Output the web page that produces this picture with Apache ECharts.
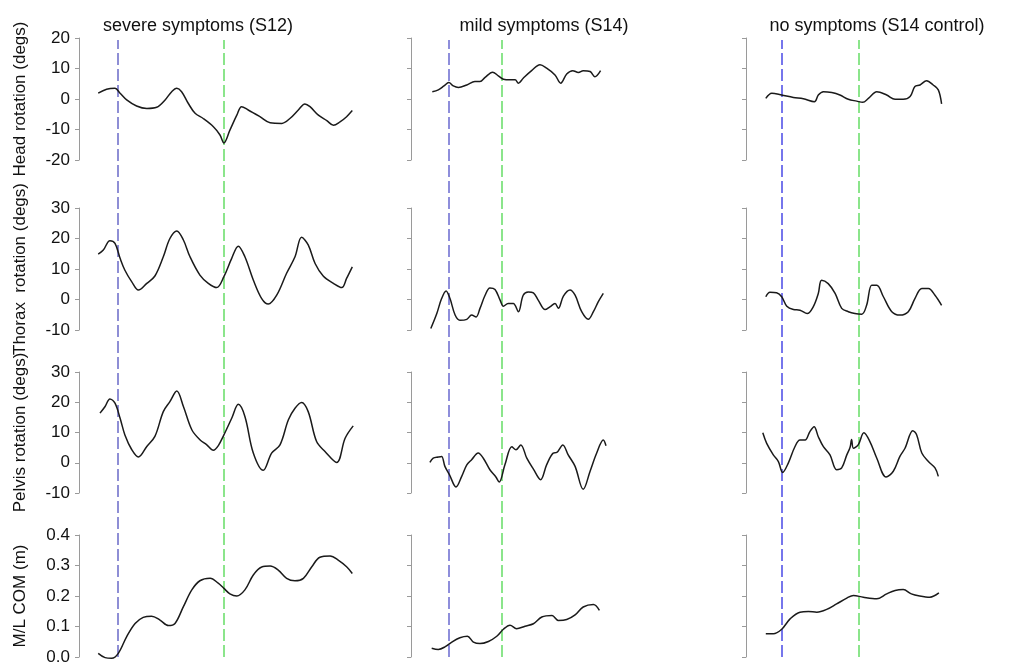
<!DOCTYPE html>
<html><head><meta charset="utf-8">
<script src="https://cdn.jsdelivr.net/npm/echarts@6/dist/echarts.min.js"></script>
<style>html,body{margin:0;padding:0;background:#fff}#c{width:1027px;height:666px}</style>
</head><body><div id="c"></div><script>
// ---- data ----
const columnTitles = ['severe symptoms (S12)', 'mild symptoms (S14)', 'no symptoms (S14 control)'];
const rowNames = ['Head rotation (degs)', 'Thorax  rotation (degs)', 'Pelvis rotation (degs)', 'M/L COM (m)'];
const blueEvent = [13, 12.7, 12];
const greenEvent = [48.3, 30.3, 37.7];

const headS12 = [[6.4,1.9],[9.2,3.2],[12,3.5],[13.7,1.9],[15.9,-0.3],[19.2,-2.3],[22.6,-3.1],[25.9,-2.7],[28.7,-0.3],[30.9,2.4],[32.6,3.5],[34.2,2.4],[36.4,-1.4],[38.7,-4.7],[41.4,-6.4],[44.8,-9.1],[47,-11.8],[48.3,-14.4],[50.3,-10.2],[52.6,-5.3],[54.2,-2.5],[56.4,-3.6],[60.3,-5.8],[63.7,-7.8],[67.6,-8.0],[70.3,-6.4],[73.1,-3.6],[75.3,-1.6],[77,-2.5],[79.8,-5.3],[82.6,-7.1],[84.8,-8.6],[87,-7.5],[89.2,-5.8],[91.1,-3.8]];
const thoraxS12 = [[6.4,14.9],[8.1,16.2],[10.3,19.3],[12,18.4],[13.7,13.5],[15.3,9.6],[17.6,5.8],[19.8,3.1],[22.6,5.3],[25.3,7.7],[28.1,14],[30.3,20],[32.6,22.5],[34.8,19.5],[37,14],[40.3,8],[43.1,5.3],[45.9,3.9],[48.3,7.5],[50.9,13.5],[53.1,17.5],[55.3,14],[58.1,6.4],[60.9,0.3],[63.1,-1.5],[65.9,1.4],[69.2,8.6],[72,14],[74.2,20.4],[76.4,17.9],[78.7,11.8],[81.4,7.7],[84.8,5.3],[87.6,3.9],[89.2,6.9],[91.1,10.7]];
const pelvisS12 = [[7,16.4],[8.7,18.6],[10.3,21.1],[12,19.7],[13.7,14.7],[15.3,9.2],[17.6,4.3],[19.8,1.9],[22.6,5.4],[25.3,8.7],[28.1,16.9],[30.3,20.2],[32.6,23.7],[34.8,18.6],[37.6,10.9],[40.3,7.6],[42.6,5.9],[44.8,4.1],[46.4,5.6],[48.3,9.2],[50.9,14.7],[53.1,19.3],[55.3,15.3],[58.1,3.2],[61.4,-2.5],[64.2,3.2],[67,5.9],[69.8,14.2],[72,18],[74.2,19.9],[76.4,16.9],[79.2,7],[82,3.7],[85.9,0.1],[88.7,8.1],[91.4,12.2]];
const comS12 = [[6.4,0.012],[8.7,-0.002],[10.9,-0.004],[13.1,0.012],[15.9,0.067],[18.7,0.11],[21.4,0.13],[24.2,0.134],[27,0.121],[29.8,0.103],[32,0.11],[34.8,0.165],[37.6,0.22],[40.3,0.25],[43.7,0.258],[46.4,0.242],[48.3,0.225],[50.3,0.207],[52.6,0.2],[55.3,0.22],[58.1,0.269],[60.9,0.295],[63.7,0.298],[66.4,0.285],[69.2,0.258],[72,0.25],[74.8,0.258],[77.6,0.296],[80.3,0.327],[83.7,0.331],[86.4,0.318],[89.2,0.296],[91.1,0.274]];

const headS14 = [[7.1,2.4],[9.1,3],[11,4.3],[12.6,5.4],[14.1,4.3],[15.8,3.8],[18.6,4.6],[21.3,5.7],[23,5.7],[24.7,7.1],[27.2,8.8],[29.1,7.6],[30.8,6.5],[33,6.3],[34.7,6.3],[35.8,5.2],[37.4,6.8],[40.2,9.3],[43,11.2],[45.2,10.1],[48,7.9],[49.9,5.2],[51.9,8.2],[53.9,9.3],[55.8,8.7],[57.4,9.3],[59.7,9],[61.3,7.3],[63.2,9.3]];
const thoraxS14 = [[6.6,-9.5],[8.6,-4.6],[10.2,0.3],[11.7,2.8],[13,0.3],[14.7,-5.1],[16.3,-6.8],[18.6,-6.5],[20.2,-5.1],[21.7,-5.7],[23,-2.9],[24.7,1.4],[26.3,3.8],[28,3.3],[29.7,-0.2],[30.8,-2.2],[32.4,-1.3],[34.1,-1.3],[35.8,-4],[37.4,1.4],[39.1,2.5],[40.8,2.2],[42.4,-0.2],[44.7,-3.3],[46.3,-2.4],[48,-1.3],[49.1,-2.9],[50.8,1.1],[53,3.1],[54.7,1.4],[56.9,-4],[59.1,-6.5],[60.8,-4],[62.4,-0.8],[64.1,2]];
const pelvisS14 = [[6.3,0.1],[7.4,1.5],[9.1,1.9],[10.2,2.1],[11.3,-1.2],[12.8,-3.9],[15,-8],[16.9,-4.5],[18.6,-0.7],[20.2,1],[22.4,3.2],[24.1,1.5],[26.3,-2.3],[28.3,-4.7],[29.4,-6.4],[31.3,-0.7],[33.6,5.3],[35,4.3],[36.6,5.9],[38.6,1.5],[40.8,-2.1],[43.2,-5.6],[45.2,-0.7],[47.4,3.2],[48.6,3.4],[50.6,5.9],[52.4,2.6],[54.7,-1.2],[57.4,-8.8],[59.7,-2.8],[61.9,3.2],[64.1,7.5],[65,5.6]];
const comS14 = [[6.9,0.029],[9.1,0.025],[11.3,0.033],[13.6,0.049],[16.3,0.063],[18.8,0.068],[20.8,0.049],[23,0.044],[25.8,0.051],[28.6,0.068],[30.8,0.091],[33,0.104],[35.2,0.093],[38,0.101],[40.8,0.109],[43.6,0.131],[47,0.136],[49.1,0.12],[51.9,0.123],[54.7,0.138],[57.4,0.164],[60.8,0.172],[62.8,0.153]];

const headCtrl = [[6.6,0.2],[8.6,1.9],[11.9,1.3],[15.8,0.5],[19.1,0.1],[22.8,-0.9],[24.1,1.3],[25.8,2.4],[28.6,2.1],[31.3,1.3],[34.1,-0.1],[36.9,-0.7],[38.9,-1.1],[40.8,0.2],[43.6,2.4],[46.9,1.3],[49.7,-0.1],[52.4,-0.1],[54.7,0.8],[56.3,4.1],[58,4.6],[60.2,6],[62.4,4.6],[64.1,3],[65.2,-1.6]];
const thoraxCtrl = [[6.6,0.9],[8,2.4],[10.2,2.2],[11.9,0.9],[13.6,-2.2],[15.8,-3.3],[18,-3.5],[20.4,-4.6],[22.4,-2.4],[24.1,2],[25.2,6.3],[27.4,5.2],[29.7,2],[31.9,-2.9],[34.1,-4],[36.3,-4.6],[38.6,-4.8],[40.2,-1.9],[41.9,4.7],[43.6,4.7],[45.8,0.9],[48.6,-4],[51.3,-5.1],[54.1,-4],[56.3,0.3],[58.6,3.6],[60.8,3.6],[63,1.4],[65.2,-1.9]];
const pelvisCtrl = [[5.6,9.9],[6.9,6.4],[9.1,2.6],[10.8,0.4],[12.2,-3.2],[14.1,-0.1],[16.3,5.3],[18,7.5],[19.7,7.5],[21.3,10.3],[22.7,11.9],[24.1,8.6],[25.8,5.3],[28,2.6],[30.2,-2.3],[31.9,-1.7],[33.6,2.6],[34.7,5.1],[35.2,7.7],[35.8,4.8],[37.4,5.9],[39.3,9.9],[41.3,7],[43.6,1.5],[46.7,-4.7],[49.1,-2.8],[51.3,2.1],[53,4.8],[55.6,10.6],[56.9,9.2],[58.6,3.2],[60.8,0.4],[63,-1.7],[64.1,-4.5]];
const comCtrl = [[6.6,0.076],[9.1,0.076],[11.9,0.091],[14.7,0.125],[18,0.147],[20.8,0.149],[23.6,0.147],[26.9,0.156],[30.2,0.174],[33.6,0.193],[35.8,0.202],[39.1,0.196],[43.6,0.191],[46.9,0.207],[49.7,0.218],[52.4,0.221],[55.1,0.207],[57.9,0.2],[61.3,0.196],[64.3,0.21]];

const panels = [
  [headS12, headS14, headCtrl],
  [thoraxS12, thoraxS14, thoraxCtrl],
  [pelvisS12, pelvisS14, pelvisCtrl],
  [comS12, comS14, comCtrl]
];

// ---- layout / styles ----
const FONT = '"Liberation Sans", Arial, sans-serif';
const colLeft = [79, 411, 746];
const colWidth = [300, 300, 270];
const colXMax = [100, 100, 90];
const rowTop = [38, 208, 372, 535];
const rowHeight = [122, 122, 121, 122];
const yRange = [[-20, 20, 10], [-10, 30, 10], [-10, 30, 10], [0, 0.4, 0.1]];
const titleCenter = [193, 539, 872];
const blueColors = ['#6a6ac8', '#6a6ad0', '#4a4ae6'];
const greenColor = '#66dd66';

const grid = [], xAxis = [], yAxis = [], series = [], title = [];
for (let r = 0; r < 4; r++) {
  for (let c = 0; c < 3; c++) {
    const i = grid.length;
    grid.push({left: colLeft[c], width: colWidth[c], top: rowTop[r], height: rowHeight[r]});
    xAxis.push({type: 'value', gridIndex: i, min: 0, max: colXMax[c], show: false});
    yAxis.push({
      type: 'value', gridIndex: i, min: yRange[r][0], max: yRange[r][1], interval: yRange[r][2],
      splitLine: {show: false},
      axisLine: {show: true, lineStyle: {color: '#9a9a9a', width: 1}},
      axisTick: {show: true, inside: false, length: 4, lineStyle: {color: '#9a9a9a'}},
      axisLabel: {show: c === 0, margin: 9, color: '#111', fontFamily: FONT, fontSize: 17,
        formatter: r === 3 ? (v => v.toFixed(1)) : (v => String(v))},
      name: c === 0 ? rowNames[r] : '',
      nameLocation: 'middle', nameRotate: 90, nameGap: 50,
      nameTextStyle: {color: '#111', fontFamily: FONT, fontSize: 17}
    });
    series.push({
      type: 'line', xAxisIndex: i, yAxisIndex: i, data: panels[r][c],
      showSymbol: false, smooth: 0.35, z: 5, clip: false,
      lineStyle: {color: '#1a1a1a', width: 1.5}
    });
  }
}
// full-height overlay grids carrying the event markers
for (let c = 0; c < 3; c++) {
  const i = grid.length;
  grid.push({left: colLeft[c], width: colWidth[c], top: 40, bottom: 9});
  xAxis.push({type: 'value', gridIndex: i, min: 0, max: colXMax[c], show: false});
  yAxis.push({type: 'value', gridIndex: i, min: 0, max: 1, show: false});
  series.push({
    type: 'line', xAxisIndex: i, yAxisIndex: i, data: [], z: 2,
    markLine: {
      silent: true, symbol: 'none', label: {show: false},
      data: [
        {xAxis: blueEvent[c], lineStyle: {color: blueColors[c], type: [12, 4], width: 1.5}},
        {xAxis: greenEvent[c], lineStyle: {color: greenColor, type: [12, 4], width: 1.5}}
      ]
    }
  });
  title.push({
    text: columnTitles[c], left: titleCenter[c], top: 12, textAlign: 'center',
    textStyle: {fontFamily: FONT, fontSize: 18, fontWeight: 'normal', color: '#111'}
  });
}

const chart = echarts.init(document.getElementById('c'), null, {renderer: 'canvas'});
chart.setOption({animation: false, backgroundColor: '#fff', title, grid, xAxis, yAxis, series});
</script></body></html>
